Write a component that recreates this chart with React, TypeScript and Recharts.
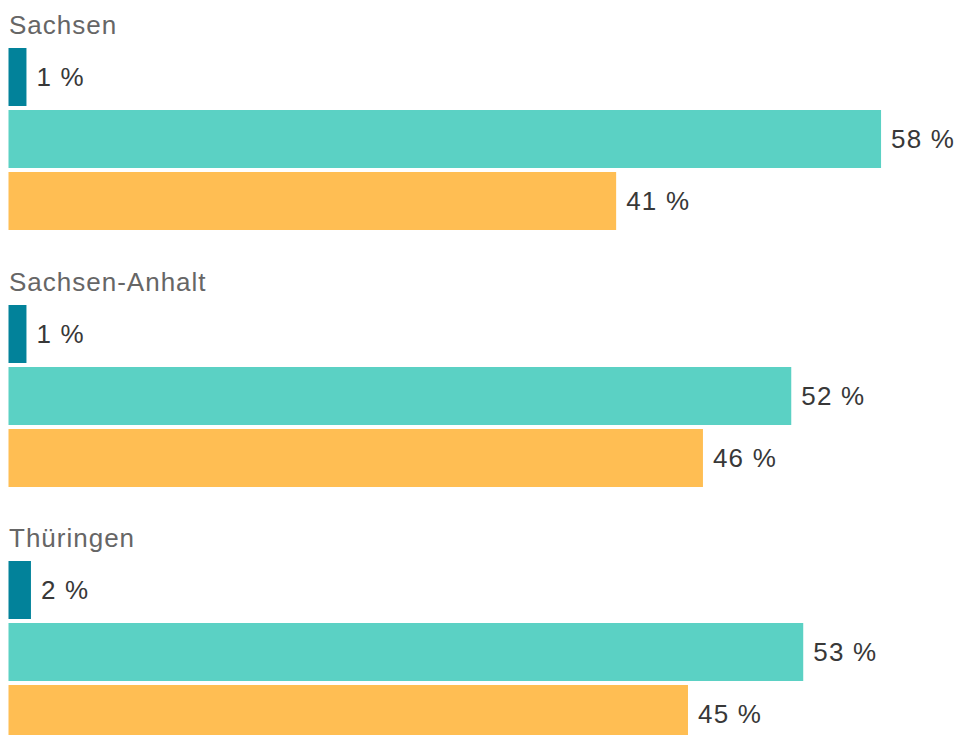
import { BarChart, Bar, XAxis, YAxis, Cell, LabelList } from 'recharts';

const regions = ['Sachsen', 'Sachsen-Anhalt', 'Thüringen'];
const answers = ['a', 'b', 'c'];
const answerColors = ['#02829a', '#5bd1c4', '#ffbe53'];

const sachsenValues = [1.2, 58.3, 40.6];
const anhaltValues = [1.2, 52.3, 46.4];
const thueringenValues = [1.5, 53.1, 45.4];

const regionValues = [sachsenValues, anhaltValues, thueringenValues];

const FONT = '"Liberation Sans", Arial, Helvetica, sans-serif';

function RegionBlock({ title, values }: { title: string; values: number[] }) {
    const rows = answers.map((key, i) => ({ key, value: values[i] }));
    return (
        <div style={{ height: 256.5, position: 'relative' }}>
            <div
                style={{
                    position: 'absolute',
                    left: 9,
                    top: 12,
                    fontSize: 26,
                    lineHeight: '26px',
                    color: '#666',
                    letterSpacing: 1,
                }}
            >
                {title}
            </div>
            <div style={{ position: 'absolute', left: 0, top: 46 }}>
                <BarChart
                    width={958}
                    height={186}
                    data={rows}
                    layout="vertical"
                    margin={{ top: 0, right: 51.5, bottom: 0, left: 8.5 }}
                >
                    <XAxis type="number" domain={[0, 60]} hide />
                    <YAxis type="category" dataKey="key" hide />
                    <Bar dataKey="value" barSize={58} isAnimationActive={false}>
                        {rows.map((r, i) => (
                            <Cell key={r.key} fill={answerColors[i]} />
                        ))}
                        <LabelList
                            dataKey="value"
                            position="right"
                            offset={10}
                            formatter={(v: any) => `${Math.round(Number(v))} %`}
                            style={{ fill: '#383838', fontSize: 26, fontFamily: FONT, letterSpacing: 1.2 }}
                        />
                    </Bar>
                </BarChart>
            </div>
        </div>
    );
}

export default function App() {
    return (
        <div
            style={{
                position: 'absolute',
                left: 0,
                top: 0,
                width: 958,
                height: 735,
                overflow: 'hidden',
                background: '#fff',
                fontFamily: FONT,
            }}
        >
            {regions.map((r, i) => (
                <RegionBlock key={r} title={r} values={regionValues[i]} />
            ))}
        </div>
    );
}
